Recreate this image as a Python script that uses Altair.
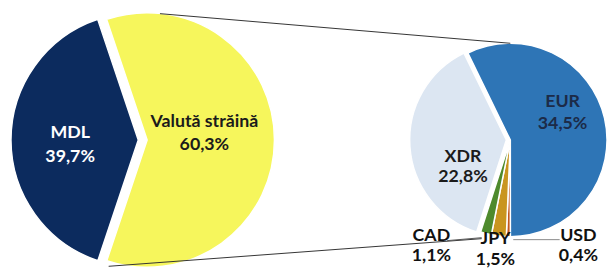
import math
import altair as alt
import pandas as pd

# ---- data ----
main_cats = ["MDL", "Valută străină"]
main_vals = [39.7, 60.3]
main_pct = ["39,7%", "60,3%"]
main_colors = ["#0c2b5e", "#f6f65c"]

sub_cats = ["EUR", "USD", "JPY", "CAD", "XDR"]
sub_vals = [34.5, 0.4, 1.5, 1.1, 22.8]
sub_pct = ["34,5%", "0,4%", "1,5%", "1,1%", "22,8%"]
sub_colors = ["#2e75b6", "#c4571d", "#c9951f", "#4e8a2c", "#dce6f2"]

# ---- layout (chart pixel coords; page margin of 8px already removed) ----
OFF = 8
L_CX, L_CY, L_R = 140 - OFF, 140 - OFF, 129
EXPLODE_L = 9
R_CX, R_CY, R_R = 517 - OFF, 140 - OFF, 98
EXPLODE_R = 4
L_START = 198.5   # degrees, clockwise from 12 o'clock
R_START = 334.0

all_cats = main_cats + sub_cats
all_colors = main_colors + sub_colors

main_df = pd.DataFrame({"cat": main_cats, "value": main_vals, "order": range(len(main_cats))})
sub_df = pd.DataFrame({"cat": sub_cats, "value": sub_vals, "order": range(len(sub_cats))})

color = alt.Color("cat:N", scale=alt.Scale(domain=all_cats, range=all_colors), legend=None)


def slice_layer(df, cat, cx, cy, r, total, start_deg):
    s = math.radians(start_deg)
    return (
        alt.Chart(df)
        .transform_window(cum="sum(value)", sort=[alt.SortField("order")], frame=[None, 0])
        .transform_calculate(start="datum.cum - datum.value")
        .transform_filter(alt.datum.cat == cat)
        .mark_arc(radius=r, stroke="white", strokeWidth=1.5)
        .encode(
            x=alt.value(cx),
            y=alt.value(cy),
            theta=alt.Theta("start:Q", scale=alt.Scale(domain=[0, total], range=[s, s + 2 * math.pi]), stack=None),
            theta2="cum:Q",
            color=color,
        )
    )


layers = []
# left pie
layers.append(slice_layer(main_df, "MDL", L_CX, L_CY, L_R, 100, L_START))
layers.append(slice_layer(main_df, "Valută străină", L_CX + EXPLODE_L, L_CY, L_R, 100, L_START))
# right pie
sub_total = sum(sub_vals)
for c in sub_cats:
    dx = -EXPLODE_R if c == "XDR" else 0
    layers.append(slice_layer(sub_df, c, R_CX + dx, R_CY, R_R, sub_total, R_START))

dummy = pd.DataFrame({"a": [0]})


def line(x1, y1, x2, y2, col="#333333", w=1):
    return alt.Chart(dummy).mark_rule(color=col, strokeWidth=w).encode(
        x=alt.value(x1 - OFF), y=alt.value(y1 - OFF), x2=alt.value(x2 - OFF), y2=alt.value(y2 - OFF)
    )


# connector lines between pies
layers.append(line(162, 12, 517, 42))
layers.append(line(110, 268, 488, 240))
# leader lines
layers.append(line(453, 242, 488, 239, "#555555"))
layers.append(line(520, 241, 567, 241, "#888888"))


def label(text, x, y, col, size=18):
    return alt.Chart(pd.DataFrame({"t": [text]})).mark_text(
        font="Lato", fontWeight="bold", fontSize=size, color=col, align="center", baseline="alphabetic"
    ).encode(x=alt.value(x - OFF), y=alt.value(y - OFF), text="t:N")


# label positions (screen coords: centre x, baseline y of name and percentage)
label_pos = {
    "MDL": (71, 138, 162, "white"),
    "Valută străină": (207, 127, 150, "#1b1b1b"),
    "EUR": (570, 107, 128.5, "#1c2b48"),
    "XDR": (469, 162, 183, "#1b1b1b"),
    "CAD": (437, 242, 263, "#111111"),
    "JPY": (502, 245, 267, "#111111"),
    "USD": (586, 242, 263, "#111111"),
}
for names, pcts in ((main_cats, main_pct), (sub_cats, sub_pct)):
    for n, p in zip(names, pcts):
        x, y1, y2, col = label_pos[n]
        layers.append(label(n, x, y1, col))
        layers.append(label(p, x, y2, col))

chart = (
    alt.layer(*layers)
    .resolve_scale(theta="independent")
    .properties(width=608, height=261, autosize="none", padding=0)
    .configure_view(stroke=None)
)

chart.save("out.html", embed_options={"renderer": "svg", "actions": False})
